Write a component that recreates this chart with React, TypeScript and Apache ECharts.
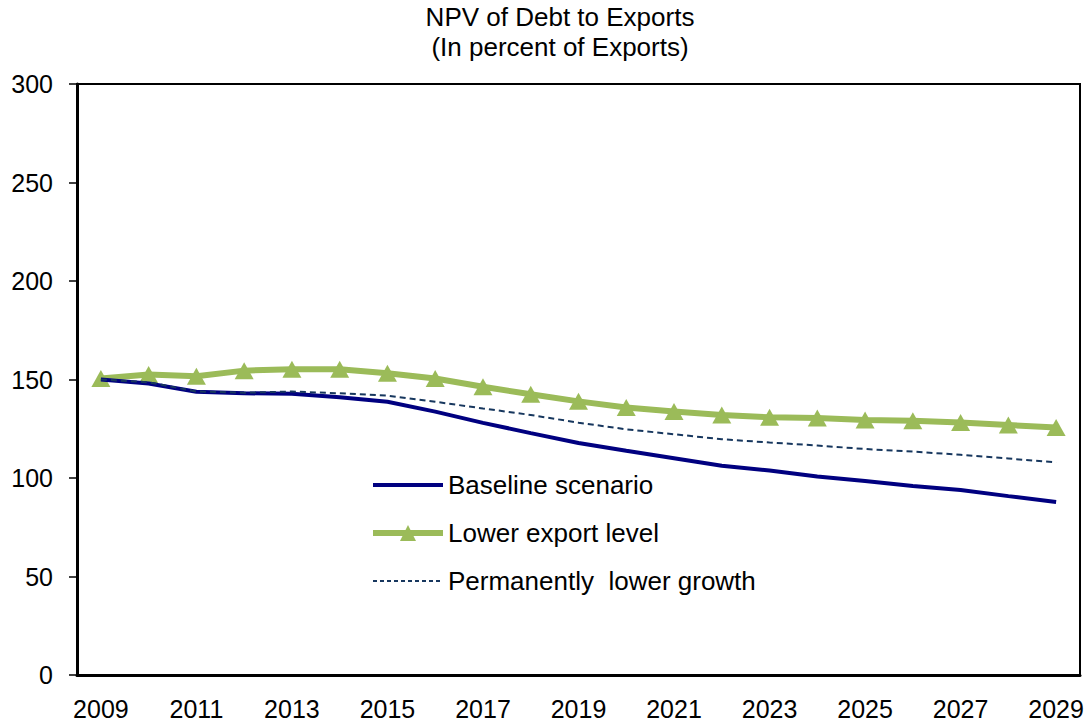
import React, { useEffect, useRef } from "react";
import * as echarts from "echarts";

const years = ["2009","2010","2011","2012","2013","2014","2015","2016","2017","2018","2019","2020","2021","2022","2023","2024","2025","2026","2027","2028","2029"];
const baseline = [150, 148, 143.8, 143, 142.8, 141, 138.7, 133.7, 128, 122.8, 117.8, 113.8, 110, 106.2, 103.8, 100.8, 98.5, 95.9, 93.9, 90.8, 87.8];
const lowerExport = [150.5, 152.5, 151.7, 154.5, 155.2, 155.2, 153.2, 150.5, 146.3, 142.5, 138.9, 135.8, 133.7, 132, 130.8, 130.4, 129.5, 129.1, 128.2, 126.9, 125.6];
const lowerGrowth = [150, 148.6, 143.9, 143.3, 143.9, 143, 141.8, 138.7, 135.3, 132, 128.1, 124.7, 122.2, 119.7, 118, 116.5, 114.7, 113.4, 111.8, 109.9, 107.9];
const yTicks = { min: 0, max: 300, interval: 50 };
const titleLines = ["NPV of Debt to Exports", "(In percent of Exports)"];
const seriesNames = ["Baseline scenario", "Lower export level", "Permanently  lower growth"];

const FONT = "Liberation Sans, Arial, sans-serif";
const NAVY = "#000080";
const GREEN = "#9BBB59";
const DASH = "#17375E";

export default function App() {
  const ref = useRef<HTMLDivElement>(null);
  useEffect(() => {
    if (!ref.current) return;
    const chart = echarts.init(ref.current, null, { renderer: "svg" });
    chart.setOption({
      animation: false,
      backgroundColor: "#ffffff",
      textStyle: { fontFamily: FONT },
      graphic: [
        {
          type: "text",
          x: 560,
          y: 2,
          style: {
            text: titleLines.join("\n"),
            font: `26px ${FONT}`,
            lineHeight: 30,
            fill: "#000",
            textAlign: "center",
          },
        },
      ],
      grid: {
        left: 77,
        right: 12,
        top: 84,
        bottom: 52,
        show: true,
        borderColor: "#000",
        borderWidth: 2,
        backgroundColor: "transparent",
      },
      legend: {
        orient: "vertical",
        left: 365,
        top: 467,
        itemWidth: 70,
        itemHeight: 20,
        itemGap: 22,
        textStyle: { fontSize: 26, color: "#000", fontFamily: FONT },
        data: [
          { name: seriesNames[0], lineStyle: { width: 4, color: NAVY } },
          { name: seriesNames[1], lineStyle: { width: 6, color: GREEN } },
          { name: seriesNames[2], lineStyle: { width: 2, color: DASH, type: [4, 3] } },
        ],
      },
      xAxis: {
        type: "category",
        data: years,
        boundaryGap: true,
        axisLine: { lineStyle: { color: "#000", width: 3 } },
        axisTick: { inside: true, length: 7, interval: 0, lineStyle: { color: "#000", width: 1.5 } },
        axisLabel: { interval: 1, fontSize: 25, color: "#000", margin: 21, fontFamily: FONT },
        splitLine: { show: false },
      },
      yAxis: {
        type: "value",
        min: yTicks.min,
        max: yTicks.max,
        interval: yTicks.interval,
        axisLine: { show: true, lineStyle: { color: "#000", width: 3 } },
        axisTick: { show: true, inside: false, length: 8, lineStyle: { color: "#000", width: 1.5 } },
        axisLabel: { fontSize: 25, color: "#000", margin: 24, fontFamily: FONT },
        splitLine: { show: false },
      },
      series: [
        {
          name: seriesNames[0],
          type: "line",
          data: baseline,
          symbol: "none",
          lineStyle: { color: NAVY, width: 4 },
          itemStyle: { color: "rgba(0,0,0,0)" },
          z: 3,
        },
        {
          name: seriesNames[1],
          type: "line",
          data: lowerExport,
          symbol: "triangle",
          symbolSize: [19, 17],
          lineStyle: { color: GREEN, width: 6 },
          itemStyle: { color: GREEN },
          z: 2,
        },
        {
          name: seriesNames[2],
          type: "line",
          data: lowerGrowth,
          symbol: "none",
          lineStyle: { color: DASH, width: 2, type: [6, 4] },
          itemStyle: { color: "rgba(0,0,0,0)" },
          z: 4,
        },
      ],
    });
    return () => chart.dispose();
  }, []);
  return (
    <div
      ref={ref}
      style={{ position: "fixed", left: 0, top: 0, width: 1092, height: 727 }}
    />
  );
}
